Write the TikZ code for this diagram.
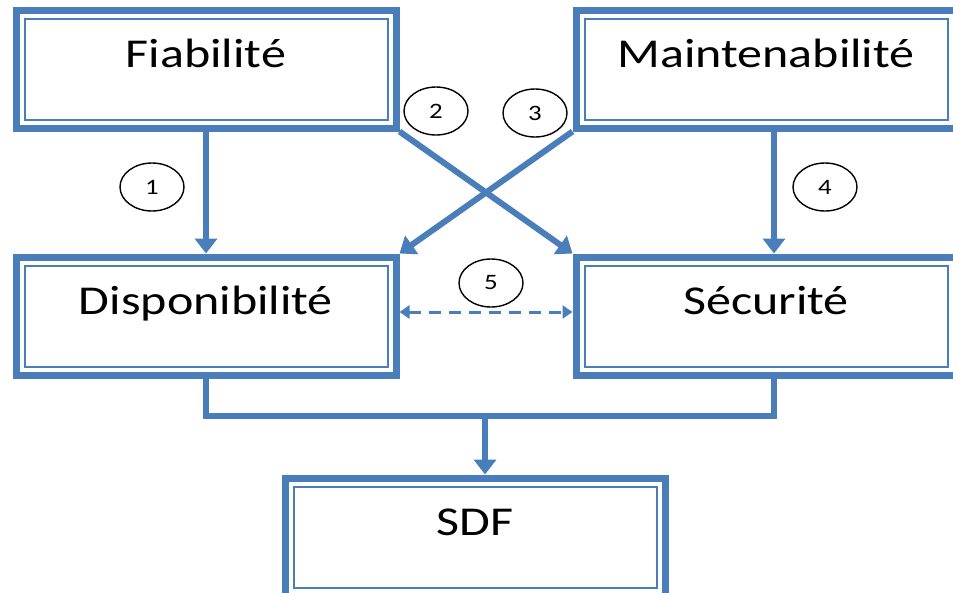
\documentclass[tikz,border=0pt]{standalone}
\usepackage{fontspec}
\setmainfont[FakeStretch=1.22]{Carlito}
\usetikzlibrary{arrows.meta,shapes.geometric}
\definecolor{sdfblue}{RGB}{74,126,187}

\begin{document}
\begin{tikzpicture}[x=1pt,y=-1pt,
                box/.style={
                    draw=sdfblue,
                    line width=7pt,
                    rectangle,
                    minimum width=380pt,
                    minimum height=118pt,
                    text height=20pt,
                    text depth=23pt,
                    font=\fontsize{41}{49}\selectfont
                },
                innerframe/.style={
                    draw=sdfblue,
                    line width=2pt
                },
                num/.style={
                    draw=black,
                    line width=1.4pt,
                    ellipse,
                    minimum width=64pt,
                    minimum height=48pt,
                    inner sep=0pt,
                    font=\fontsize{22}{26}\selectfont
                },
                link/.style={
                    draw=sdfblue,
                    line width=6pt
                },
                arrow/.style={
                    link,
                    -{Triangle[width=22pt,length=15pt]}
                },
                dasharrow/.style={
                    draw=sdfblue,
                    line width=3pt,
                    dash pattern=on 12pt off 8pt,
                    {Triangle[width=13pt,length=10pt]}-{Triangle[width=13pt,length=10pt]}
                }
            ]
                \useasboundingbox (0,0) rectangle (953,592);
                \clip (0,0) rectangle (953,592);

                % the five blocks
                \node[box] (fiab)  at (206,69)  {Fiabilité};
                \node[box] (maint) at (766,69)  {Maintenabilité};
                \node[box] (disp)  at (206,316) {Disponibilité};
                \node[box] (secu)  at (766,316) {Sécurité};
                \node[box] (sdf)   at (475,537) {SDF};

                % thin inner frame of each block
                \foreach \b in {fiab,maint,disp,secu,sdf}
                    \draw[innerframe] ([shift={(12pt,-12pt)}]\b.north west) rectangle ([shift={(-12pt,12pt)}]\b.south east);

                % numbered relations
                \node[num] (n1) at (152,187) {1};
                \node[num] (n2) at (436,111) {2};
                \node[num] (n3) at (535,113) {3};
                \node[num] (n4) at (825,187) {4};
                \node[num] (n5) at (491,283) {5};

                \draw[arrow] (fiab) -- (disp);
                \draw[arrow] ([xshift=8pt]maint.south) -- ([xshift=8pt]secu.north);
                \draw[arrow] (fiab.south east) -- (secu.north west);
                \draw[arrow] (maint.south west) -- (disp.north east);
                \draw[dasharrow] ([yshift=4pt]disp.east) -- ([yshift=4pt]secu.west);

                \coordinate (joint) at (485,416);
                \draw[link] (disp.south) |- (joint) -| ([xshift=8pt]secu.south);
                \draw[arrow] (joint) -- (joint |- sdf.north);
        \end{tikzpicture}
\end{document}
